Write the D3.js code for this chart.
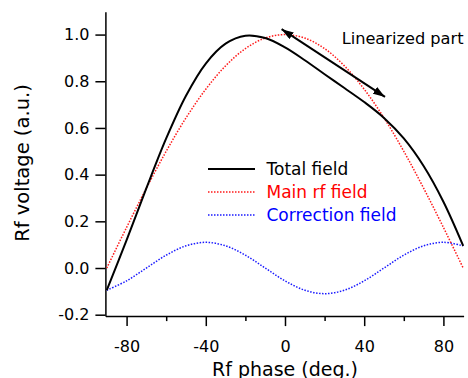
<!DOCTYPE html>
<html>
<head>
<meta charset="utf-8">
<script src="https://cdn.jsdelivr.net/npm/d3@7"></script>
<style>
  body { margin: 0; background: #fff; }
  svg text { font-family: "DejaVu Sans", sans-serif; fill: #000; }
</style>
</head>
<body>
<div id="chart"></div>
<script>
// phase samples (deg.)
const phase = [-90, -80, -70, -60, -50, -40, -30, -20, -10, 0, 10, 20, 30, 40, 50, 60, 70, 80, 90];
const totalField = [-0.095, 0.119, 0.342, 0.555, 0.738, 0.876, 0.961, 0.995, 0.985, 0.945, 0.890, 0.830, 0.771, 0.711, 0.643, 0.555, 0.437, 0.284, 0.095];
const mainField = [0.0, 0.174, 0.342, 0.5, 0.643, 0.766, 0.866, 0.940, 0.985, 1.0, 0.985, 0.940, 0.866, 0.766, 0.643, 0.5, 0.342, 0.174, 0.0];
const correctionField = [-0.095, -0.055, 0.0, 0.055, 0.095, 0.11, 0.095, 0.055, 0.0, -0.055, -0.095, -0.11, -0.095, -0.055, 0.0, 0.055, 0.095, 0.11, 0.095];

const xTicks = [-80, -40, 0, 40, 80];
const xMinor = [-60, -20, 20, 60];
const yTicks = [-0.2, 0.0, 0.2, 0.4, 0.6, 0.8, 1.0];

const legendNames = ["Total field", "Main rf field", "Correction field"];
// annotation arrow ends (data coords)
const arrowFrom = [-1.7, 1.023];
const arrowTo = [50.5, 0.733];
const noteText = "Linearized part";
const notePos = [28.6, 0.961];

const W = 468, H = 378;
const svg = d3.select("#chart").append("svg").attr("width", W).attr("height", H);

const x = d3.scaleLinear().domain([-90.7, 90.2]).range([105.4, 463.6]);
const y = d3.scaleLinear().domain([-0.206, 1.098]).range([316.1, 11.7]);

const defs = svg.append("defs");
["start", "end"].forEach(k => {
  defs.append("marker")
    .attr("id", "ah-" + k)
    .attr("viewBox", "0 0 12 8")
    .attr("refX", 12).attr("refY", 4)
    .attr("markerWidth", 12).attr("markerHeight", 8)
    .attr("markerUnits", "userSpaceOnUse")
    .attr("orient", k == "start" ? "auto-start-reverse" : "auto")
    .append("path").attr("d", "M0,0 L12,4 L0,8 Z").attr("fill", "#000");
});

// axes
const xAxis = svg.append("g").attr("transform", "translate(0," + y.range()[0] + ")")
  .call(d3.axisBottom(x).tickValues(xTicks).tickSize(10).tickPadding(15).tickFormat(d3.format("d")).tickSizeOuter(0));
svg.append("g").attr("transform", "translate(0," + y.range()[0] + ")")
  .call(d3.axisBottom(x).tickValues(xMinor).tickSize(5).tickFormat("").tickSizeOuter(0))
  .select(".domain").remove();
const yAxis = svg.append("g").attr("transform", "translate(" + x.range()[0] + ",0)")
  .call(d3.axisLeft(y).tickValues(yTicks).tickSize(10).tickPadding(6).tickFormat(d3.format(".1f")).tickSizeOuter(0));

svg.selectAll(".domain").attr("stroke", "#000").attr("stroke-width", 1.5);
svg.selectAll(".tick line").attr("stroke", "#000").attr("stroke-width", 1.5);
svg.selectAll(".tick text").attr("font-size", 16).attr("font-family", "DejaVu Sans").attr("fill", "#000");
yAxis.selectAll(".tick text").text(d => d3.format(".1f")(d).replace("−", "-"));
xAxis.selectAll(".tick text").text(d => String(d));

svg.append("text").attr("x", x(0)).attr("y", 375.5)
  .attr("text-anchor", "middle").attr("font-size", 19).text("Rf phase (deg.)");
svg.append("text").attr("transform", "translate(28.5,163) rotate(-90)")
  .attr("text-anchor", "middle").attr("font-size", 19.5).text("Rf voltage (a.u.)");

// curves
const line = d3.line().x((d, i) => x(phase[i])).y(d => y(d)).curve(d3.curveCatmullRom);
const series = [
  { v: totalField, color: "#000", dash: null, w: 2 },
  { v: mainField, color: "#ff1a1a", dash: "1.5,1.5", w: 1.5 },
  { v: correctionField, color: "#1a1aff", dash: "1.5,1.5", w: 1.5 }
];
series.slice().reverse().forEach(s => {
  svg.append("path").datum(s.v).attr("d", line)
    .attr("fill", "none").attr("stroke", s.color).attr("stroke-width", s.w)
    .attr("stroke-dasharray", s.dash);
});

// legend
const legendTextColor = ["#000", "#ff0000", "#0000ff"];
legendNames.forEach((n, i) => {
  const ly = 169 + i * 23;
  svg.append("line").attr("x1", 208).attr("x2", 255).attr("y1", ly).attr("y2", ly)
    .attr("stroke", series[i].color).attr("stroke-width", series[i].w)
    .attr("stroke-dasharray", series[i].dash);
  svg.append("text").attr("x", 266.5).attr("y", ly + 5.7)
    .attr("font-size", 17).style("fill", legendTextColor[i]).text(n);
});

// annotation
svg.append("line")
  .attr("x1", x(arrowFrom[0])).attr("y1", y(arrowFrom[1]))
  .attr("x2", x(arrowTo[0])).attr("y2", y(arrowTo[1]))
  .attr("stroke", "#000").attr("stroke-width", 2)
  .attr("marker-start", "url(#ah-start)").attr("marker-end", "url(#ah-end)");
svg.append("text").attr("x", x(notePos[0])).attr("y", y(notePos[1]))
  .attr("font-size", 16.2).text(noteText);
</script>
</body>
</html>
